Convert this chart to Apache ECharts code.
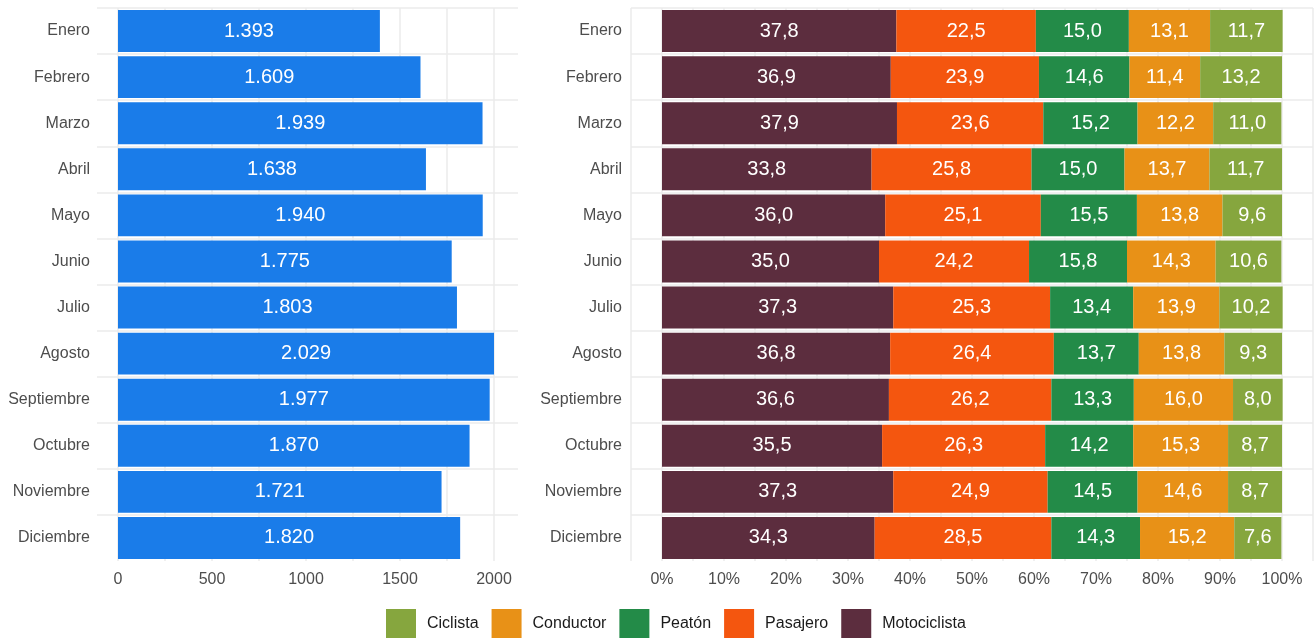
<!DOCTYPE html>
<html>
<head>
<meta charset="utf-8">
<script src="https://cdn.jsdelivr.net/npm/echarts@6/dist/echarts.min.js"></script>
<style>html,body{margin:0;padding:0;background:#fff}#c{width:1316px;height:638px}</style>
</head>
<body>
<div id="c"></div>
<script>
const months = ['Enero','Febrero','Marzo','Abril','Mayo','Junio','Julio','Agosto','Septiembre','Octubre','Noviembre','Diciembre'];
const totals = [1393,1609,1939,1638,1940,1775,1803,2029,1977,1870,1721,1820];
const motociclista = [37.8,36.9,37.9,33.8,36.0,35.0,37.3,36.8,36.6,35.5,37.3,34.3];
const pasajero     = [22.5,23.9,23.6,25.8,25.1,24.2,25.3,26.4,26.2,26.3,24.9,28.5];
const peaton       = [15.0,14.6,15.2,15.0,15.5,15.8,13.4,13.7,13.3,14.2,14.5,14.3];
const conductor    = [13.1,11.4,12.2,13.7,13.8,14.3,13.9,13.8,16.0,15.3,14.6,15.2];
const ciclista     = [11.7,13.2,11.0,11.7,9.6,10.6,10.2,9.3,8.0,8.7,8.7,7.6];
const legendOrder = ['Ciclista','Conductor','Peatón','Pasajero','Motociclista'];

const FONT = '"Liberation Sans", Arial, sans-serif';
const grid = {color:'#ebebeb', width:1.5};
const axisText = {color:'#4d4d4d', fontSize:16, fontFamily:FONT};
// helper category axis: boundaries between months (no line at the bottom edge)
const boundaries = months.concat(['']);
const helperY = (gridIndex) => ({gridIndex, type:'category', data:boundaries, boundaryGap:false, inverse:true,
  axisLine:{show:false}, axisTick:{show:false}, axisLabel:{show:false},
  splitLine:{show:true, lineStyle:grid, interval:(i) => i < months.length}});

const stackSeries = [
  ['Motociclista', motociclista, '#5c2d3e'],
  ['Pasajero', pasajero, '#f4560f'],
  ['Peatón', peaton, '#238b48'],
  ['Conductor', conductor, '#e89117'],
  ['Ciclista', ciclista, '#86a63e']
].map(([name, data, color]) => ({
  name, type:'bar', stack:'s', xAxisIndex:2, yAxisIndex:2, data,
  barCategoryGap:'9%',
  itemStyle:{color},
  label:{show:true, position:'inside', color:'#fff', fontSize:20, fontFamily:FONT,
    formatter:p => p.value.toFixed(1).replace('.', ',')}
}));

const option = {
  animation:false,
  textStyle:{fontFamily:FONT},
  grid:[
    {left:97, width:421, top:8, height:553},
    {left:118, width:376, top:8, height:553},
    {left:631, width:686, top:8, height:553}
  ],
  xAxis:[
    {gridIndex:0, type:'value', min:0, max:1, show:false, splitLine:{show:false}},
    {gridIndex:1, type:'value', min:0, max:2000, interval:500,
      axisLine:{show:false}, axisTick:{show:false},
      axisLabel:Object.assign({margin:11, formatter:v => String(v)}, axisText),
      splitLine:{lineStyle:grid},
      minorTick:{show:false, splitNumber:2},
      minorSplitLine:{show:true, lineStyle:grid}},
    {gridIndex:2, type:'value', min:-5, max:105, interval:5,
      axisLine:{show:false}, axisTick:{show:false},
      axisLabel:Object.assign({margin:11, formatter:v => (v % 10 === 0 && v >= 0 && v <= 100) ? v + '%' : ''}, axisText),
      splitLine:{lineStyle:grid}}
  ],
  yAxis:[
    helperY(0),
    {gridIndex:1, type:'category', data:months, inverse:true,
      axisLine:{show:false}, axisTick:{show:false},
      axisLabel:Object.assign({margin:28}, axisText),
      splitLine:{show:false}},
    {gridIndex:2, type:'category', data:months, inverse:true,
      axisLine:{show:false}, axisTick:{show:false},
      axisLabel:Object.assign({margin:9}, axisText),
      splitLine:{show:false}},
    helperY(2)
  ],
  legend:{
    data:legendOrder, left:386, top:609, padding:0, itemWidth:30, itemHeight:29, itemGap:13,
    icon:'rect',
    textStyle:{color:'#1a1a1a', fontSize:16, fontFamily:FONT, padding:[0,0,0,6]}
  },
  series:[
    {name:'Total', type:'bar', xAxisIndex:1, yAxisIndex:1, data:totals, barCategoryGap:'9%',
      itemStyle:{color:'#1a7ce9'},
      label:{show:true, position:'inside', color:'#fff', fontSize:20, fontFamily:FONT,
        formatter:p => p.value.toLocaleString('de-DE')}}
  ].concat(stackSeries)
};

echarts.init(document.getElementById('c'), null, {renderer:'canvas'}).setOption(option);
</script>
</body>
</html>
